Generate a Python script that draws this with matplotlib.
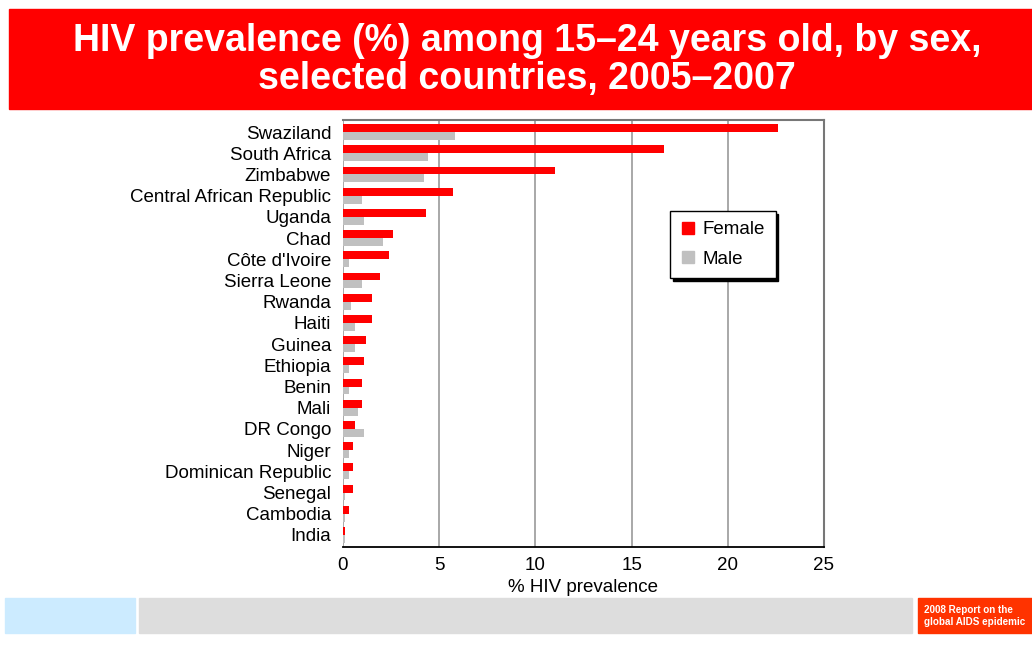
import matplotlib
matplotlib.use("Agg")
import matplotlib.pyplot as plt
from matplotlib.patches import Rectangle
from matplotlib.lines import Line2D
import numpy as np

countries = ["Swaziland", "South Africa", "Zimbabwe", "Central African Republic", "Uganda",
             "Chad", "Côte d'Ivoire", "Sierra Leone", "Rwanda", "Haiti", "Guinea", "Ethiopia",
             "Benin", "Mali", "DR Congo", "Niger", "Dominican Republic", "Senegal", "Cambodia", "India"]
female = [22.6, 16.7, 11.0, 5.7, 4.3, 2.6, 2.4, 1.9, 1.5, 1.5, 1.2, 1.1, 1.0, 1.0, 0.6, 0.5, 0.5, 0.5, 0.3, 0.1]
male = [5.8, 4.4, 4.2, 1.0, 1.1, 2.1, 0.3, 1.0, 0.4, 0.6, 0.6, 0.3, 0.3, 0.8, 1.1, 0.3, 0.3, 0.1, 0.1, 0.1]
xticks = [0, 5, 10, 15, 20, 25]

title = "HIV prevalence (%) among 15\u201324 years old, by sex,\nselected countries, 2005\u20132007"
xlabel = "% HIV prevalence"
footer = "2008 Report on the\nglobal AIDS epidemic"

plt.rcParams['font.family'] = ['Liberation Sans', 'DejaVu Sans']

W, H = 1032, 646
fig = plt.figure(figsize=(W / 100, H / 100), dpi=100)

def px(x0, y0, x1, y1):
    return [x0 / W, 1 - y1 / H, (x1 - x0) / W, (y1 - y0) / H]

# title banner
fig.patches.append(Rectangle((9 / W, 1 - 109 / H), (W - 9) / W, 100 / H,
                             transform=fig.transFigure, color="#FF0000", zorder=0))
fig.text(527 / W, 1 - 60 / H, title, ha="center", va="center", color="white",
         fontsize=27, fontweight="bold", linespacing=1.1)

# footer
fig.patches.append(Rectangle((5 / W, 1 - 633 / H), 130 / W, 35 / H,
                             transform=fig.transFigure, color="#CCEBFF", zorder=0))
fig.patches.append(Rectangle((139 / W, 1 - 633 / H), (912 - 139) / W, 35 / H,
                             transform=fig.transFigure, color="#DDDDDD", zorder=0))
fig.patches.append(Rectangle((918 / W, 1 - 633 / H), (W - 918) / W, 35 / H,
                             transform=fig.transFigure, color="#FF3300", zorder=0))
fig.text(924 / W, 1 - 616 / H, footer, ha="left", va="center", color="white",
         fontsize=7.1, fontweight="bold", linespacing=1.25)

ax = fig.add_axes(px(343, 120, 824, 547))
n = len(countries)
y = np.arange(n)
bh = 0.37
ax.barh(y - bh / 2, female, height=bh, color="#FF0000", label="Female", zorder=3)
ax.barh(y + bh / 2, male, height=bh, color="#C0C0C0", label="Male", zorder=3)
ax.set_ylim(n - 0.43, -0.57)
ax.set_xlim(0, 25)
ax.set_yticks(y)
ax.set_yticklabels(countries, fontsize=13.5)
ax.set_xticks(xticks)
ax.set_xticklabels([str(t) for t in xticks], fontsize=13.5)
ax.tick_params(axis="both", length=0)
ax.tick_params(axis="y", pad=8.5)
ax.tick_params(axis="x", pad=7)
ax.set_xlabel(xlabel, fontsize=13.5, labelpad=4)
ax.xaxis.grid(True, color="#999999", linewidth=1.2, zorder=0)
ax.set_axisbelow(True)
for s in ["top", "right"]:
    ax.spines[s].set_color("#777777")
    ax.spines[s].set_linewidth(1.5)
ax.spines["left"].set_visible(False)
ax.spines["bottom"].set_color("black")
ax.spines["bottom"].set_linewidth(1.3)

handles = [Line2D([], [], marker="s", linestyle="", markersize=8, color="#FF0000"),
           Line2D([], [], marker="s", linestyle="", markersize=8, color="#C0C0C0")]
leg = fig.legend(handles, ["Female", "Male"], loc="upper left",
                 bbox_to_anchor=(670 / W, 1 - 211 / H), fontsize=13.5,
                 frameon=True, fancybox=False, edgecolor="black", framealpha=1,
                 shadow={"color": "black", "alpha": 1}, handlelength=0.8,
                 handletextpad=0.4, borderpad=0.55, labelspacing=0.65, borderaxespad=0)
leg.get_frame().set_linewidth(1.0)

fig.savefig("out.png", dpi=100)
